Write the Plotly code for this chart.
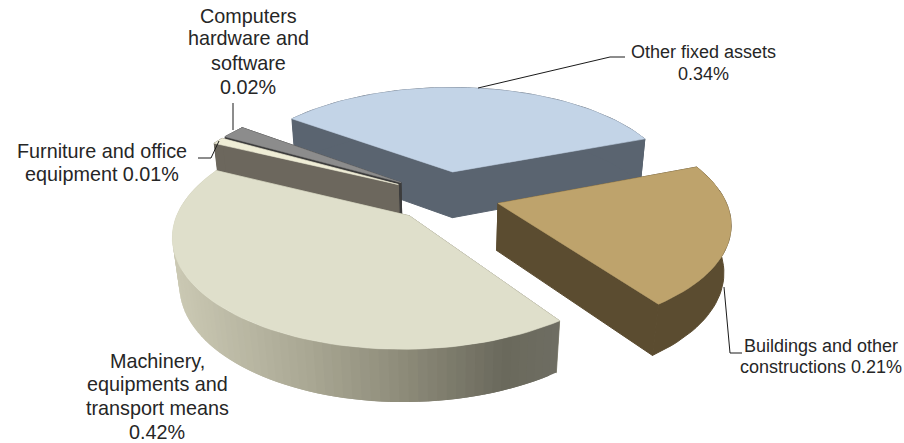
import math
import plotly.graph_objects as go

# ---- data ----
categories = ["Other fixed assets", "Buildings and other constructions",
              "Machinery, equipments and transport means",
              "Furniture and office equipment", "Computers hardware and software"]
values = [0.34, 0.21, 0.42, 0.01, 0.02]
label_lines = [["Other fixed assets", "0.34%"],
               ["Buildings and other", "constructions 0.21%"],
               ["Machinery,", "equipments and", "transport means", "0.42%"],
               ["Furniture and office", "equipment 0.01%"],
               ["Computers", "hardware and", "software", "0.02%"]]
top_colors = ["#C3D4E7", "#BEA36C", "#DFDFCB", "#EFEDD6", "#8C8C8C"]
side_colors = ["#5A6470", "#5B4C30", "#8E8C7A", "#6C675D", "#3C3C3C"]

# ---- projection of the tilted, exploded pie into the plot's axis units ----
START_DEG = -53.4
EXPLODE = 0.24
CX, CY, AX, KY, PERSP = 445.5, 196.0, 226.0, 105.0, 0.16
THICK, Q = 0.457, 0.025


def project(u, v, bottom=False):
    w = 1 + PERSP * v
    if not bottom:
        return CX + AX * u / w, CY - KY * v / w
    return CX + AX * u / (w + Q), CY - KY * (v - THICK) / (w + Q)


def mix(a, b, t):
    ca = [int(a[i:i + 2], 16) for i in (1, 3, 5)]
    cb = [int(b[i:i + 2], 16) for i in (1, 3, 5)]
    return "#%02X%02X%02X" % tuple(round(x + (y - x) * t) for x, y in zip(ca, cb))


def machinery_shade(x):
    stops = [(172, "#CBC9B4"), (300, "#ABA995"), (400, "#8E8C7A"), (505, "#6A695C"), (555, "#6E6D62")]
    for (x0, c0), (x1, c1) in zip(stops, stops[1:]):
        if x <= x1:
            return mix(c0, c1, max(0.0, (x - x0) / (x1 - x0)))
    return stops[-1][1]


def poly(xs, ys, color, line=0.6):
    return go.Scatter(x=xs, y=ys, mode="lines", fill="toself", fillcolor=color,
                      line=dict(color=color, width=line), hoverinfo="skip", showlegend=False)


spans, a = [], START_DEG
for val in values:
    spans.append((a, a + 360 * val))
    a += 360 * val

wedges = []
for i, (a0, a1) in enumerate(spans):
    mid = math.radians((a0 + a1) / 2)
    ou, ov = EXPLODE * math.sin(mid), EXPLODE * math.cos(mid)
    n = max(4, int((a1 - a0) / 2))
    rim = []
    for j in range(n + 1):
        t = math.radians(a0 + (a1 - a0) * j / n)
        rim.append((ou + math.sin(t), ov + math.cos(t)))
    wedges.append((i, (ou, ov), rim))

traces = []
# painter's order: far wedges first, the near ones on top
for i, apex, rim in [wedges[k] for k in (0, 4, 3, 2, 1)]:
    tp = [project(*apex)] + [project(*p) for p in rim]
    bt = [project(*apex, bottom=True)] + [project(*p, bottom=True) for p in rim]
    for a_idx, b_idx in ((0, 1), (0, len(rim))):
        xs = [tp[a_idx][0], tp[b_idx][0], bt[b_idx][0], bt[a_idx][0], tp[a_idx][0]]
        ys = [tp[a_idx][1], tp[b_idx][1], bt[b_idx][1], bt[a_idx][1], tp[a_idx][1]]
        traces.append(poly(xs, ys, side_colors[i], 1.0))
    if i == 2:
        # graded wall: each strip runs on under the next one, so no seams show
        for j in range(1, len(rim)):
            k = min(j + 2, len(rim))
            xs = [tp[j][0]] + [tp[m][0] for m in range(j + 1, k + 1)] + [bt[m][0] for m in range(k, j - 1, -1)]
            ys = [tp[j][1]] + [tp[m][1] for m in range(j + 1, k + 1)] + [bt[m][1] for m in range(k, j - 1, -1)]
            traces.append(poly(xs, ys, machinery_shade((tp[j][0] + tp[j + 1][0]) / 2), 0))
    else:
        xs = [p[0] for p in tp[1:]] + [p[0] for p in bt[:0:-1]]
        ys = [p[1] for p in tp[1:]] + [p[1] for p in bt[:0:-1]]
        traces.append(poly(xs, ys, side_colors[i], 1.0))
    traces.append(poly([p[0] for p in tp] + [tp[0][0]], [p[1] for p in tp] + [tp[0][1]], top_colors[i]))

# leader lines
leaders = [
    ([478, 610, 625], [88, 57, 57]),
    ([724, 730, 742], [287, 353, 353]),
    ([233, 233], [130, 103]),
    ([198, 211, 219], [158, 158, 141]),
]
for xs, ys in leaders:
    traces.append(go.Scatter(x=xs, y=ys, mode="lines", line=dict(color="#1A1A1A", width=1),
                             hoverinfo="skip", showlegend=False))

fig = go.Figure(traces)

label_x = [703, 821, 157, 102, 248]
label_y = [[52, 74], [346, 367], [361, 384, 408, 432], [151, 174], [16, 38, 63, 87]]
label_size = [18, 18, 19.8, 19.8, 19.8]
for lines, x, ys, size in zip(label_lines, label_x, label_y, label_size):
    for text, y in zip(lines, ys):
        fig.add_annotation(x=x, y=y, text=text, showarrow=False, xanchor="center", yanchor="middle",
                           align="center", font=dict(family="Liberation Sans, Arial, sans-serif",
                                                     size=size, color="#262626"))

fig.update_layout(width=904, height=443, margin=dict(l=0, r=0, t=0, b=0),
                  paper_bgcolor="white", plot_bgcolor="white", showlegend=False,
                  xaxis=dict(range=[0, 904], visible=False, fixedrange=True),
                  yaxis=dict(range=[443, 0], visible=False, fixedrange=True))
fig.write_html("out.html", config={"displayModeBar": False},
               post_script="document.body.style.margin='0';document.body.style.overflow='hidden';")
